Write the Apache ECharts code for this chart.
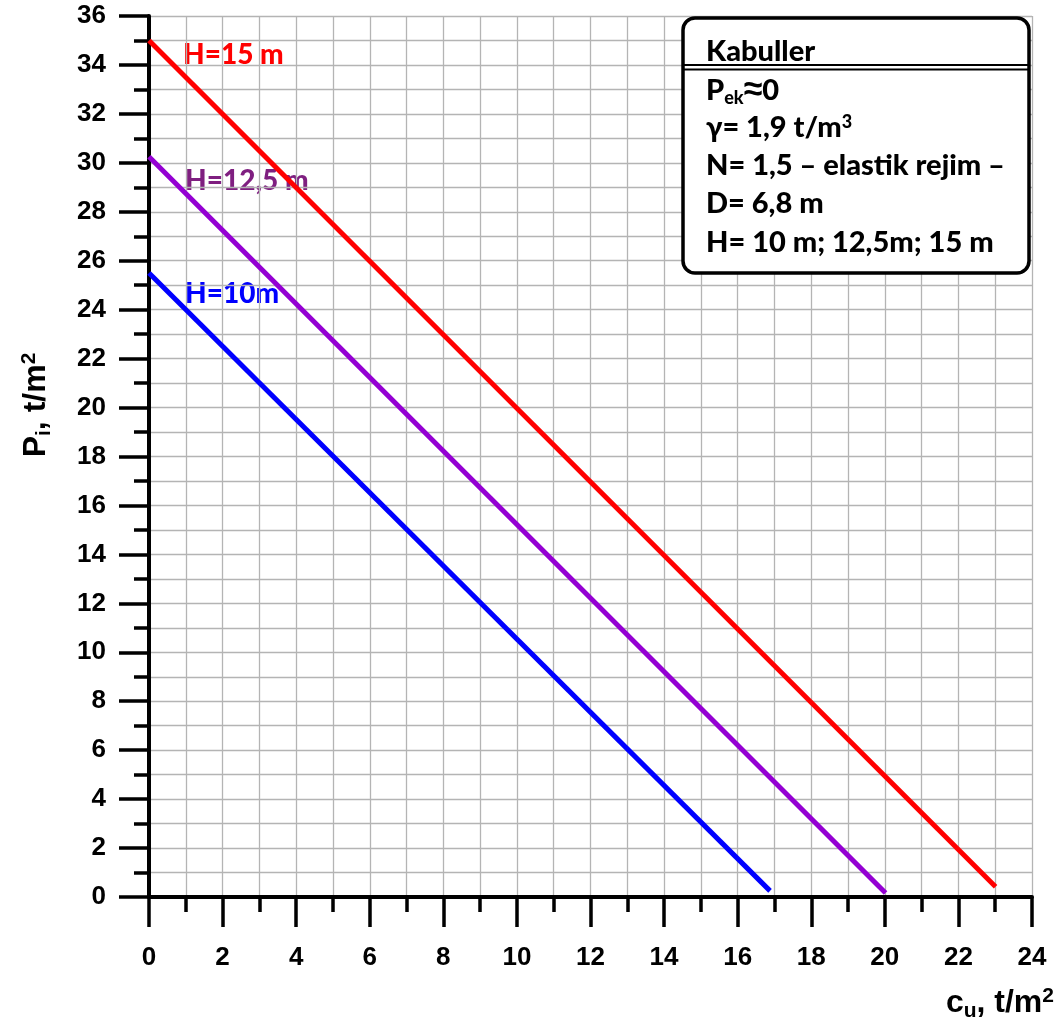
<!DOCTYPE html>
<html>
<head>
<meta charset="utf-8">
<script src="https://cdn.jsdelivr.net/npm/echarts@6/dist/echarts.min.js"></script>
<style>
  html, body { margin: 0; padding: 0; background: #fff; }
  #chart { width: 1057px; height: 1028px; }
</style>
</head>
<body>
<div id="chart"></div>
<script>
// değerler (cu, t/m2 -> Pi, t/m2)
const cuH10 = [0, 16.88];
const piH10 = [25.5, 0.25];
const cuH125 = [0, 20.02];
const piH125 = [30.25, 0.16];
const cuH15 = [0, 23.01];
const piH15 = [35.0, 0.42];

const lineLabels = ['H=15 m', 'H=12,5 m', 'H=10m'];
const boxLines = ['Kabuller', 'P{sub|ek}{big|≈}0', 'γ= 1,9 t/m{sup|3}', 'N= 1,5 – elastik rejim –', 'D= 6,8 m', 'H= 10 m; 12,5m; 15 m'];

const AX = 'Arial, "Liberation Sans", sans-serif';
const CAL = 'Lato, "Open Sans", sans-serif';
const GRIDC = '#b4b4b4';

const pairs = (xs, ys) => xs.map((x, i) => [x, ys[i]]);

const axisCommon = {
  axisLine: { show: true, onZero: false, lineStyle: { color: '#000', width: 4 } },
  axisTick: { show: true, inside: false, length: 30, lineStyle: { color: '#000', width: 3.5 } },
  minorTick: { show: true, splitNumber: 2, length: 15, lineStyle: { color: '#000', width: 3.5 } },
  splitLine: { show: true, lineStyle: { color: GRIDC, width: 1.3 } },
  minorSplitLine: { show: true, lineStyle: { color: GRIDC, width: 1.3 } },
  axisLabel: { color: '#000', fontFamily: AX, fontWeight: 'bold', fontSize: 26 },
};

const chart = echarts.init(document.getElementById('chart'));
chart.setOption({
  animation: false,
  grid: { left: 149, right: 25, top: 16, bottom: 131 },
  xAxis: Object.assign({}, axisCommon, {
    type: 'value', min: 0, max: 24, interval: 2,
    axisLabel: Object.assign({}, axisCommon.axisLabel, { margin: 48 }),
  }),
  yAxis: Object.assign({}, axisCommon, {
    type: 'value', min: 0, max: 36, interval: 2,
    axisLabel: Object.assign({}, axisCommon.axisLabel, { margin: 43 }),
  }),
  series: [
    { type: 'line', data: pairs(cuH10, piH10), symbol: 'none', lineStyle: { color: '#0000ff', width: 5 } },
    { type: 'line', data: pairs(cuH125, piH125), symbol: 'none', lineStyle: { color: '#9400d3', width: 5 } },
    { type: 'line', data: pairs(cuH15, piH15), symbol: 'none', lineStyle: { color: '#ff0000', width: 5 } },
  ],
  graphic: [
    // eğri etiketleri
    { type: 'text', x: 183, y: 55, style: { text: lineLabels[0], fill: '#ff0000', verticalAlign: 'middle', font: '900 28px ' + CAL } },
    { type: 'text', x: 185, y: 181, style: { text: lineLabels[1], fill: '#7f1f80', verticalAlign: 'middle', font: '900 28px ' + CAL } },
    { type: 'text', x: 185, y: 294, style: { text: lineLabels[2], fill: '#0000ff', verticalAlign: 'middle', font: '900 28px ' + CAL } },
    // kabuller kutusu
    { type: 'rect', shape: { x: 683, y: 18, width: 346, height: 255, r: 12 }, style: { fill: '#fff', stroke: '#000', lineWidth: 3.5 }, z: 10 },
    { type: 'line', shape: { x1: 684, y1: 65, x2: 1028, y2: 65 }, style: { stroke: '#000', lineWidth: 2 }, z: 11 },
    { type: 'line', shape: { x1: 684, y1: 69.5, x2: 1028, y2: 69.5 }, style: { stroke: '#000', lineWidth: 2 }, z: 11 },
    ...boxLines.map((t, i) => ({
      type: 'text', z: 12, x: 706, y: [52, 91, 128, 166, 204, 243][i],
      style: {
        text: t, fill: '#000', verticalAlign: 'middle', font: '900 29px ' + CAL,
        rich: {
          sub: { font: '900 18px ' + CAL, fill: '#000', padding: [15, 0, 0, 0] },
          sup: { font: '900 18px ' + CAL, fill: '#000', padding: [0, 0, 12, 0] },
          big: { font: '900 34px ' + AX, fill: '#000' },
        },
      },
    })),
    // eksen adları
    {
      type: 'text', x: 36, y: 405, rotation: Math.PI / 2, z: 12,
      style: {
        text: 'P{sub|i}, t/m{sup|2}', fill: '#000', align: 'center', verticalAlign: 'middle', font: 'bold 32px ' + AX,
        rich: {
          sub: { font: 'bold 21px ' + AX, fill: '#000', padding: [16, 0, 0, 0] },
          sup: { font: 'bold 21px ' + AX, fill: '#000', padding: [0, 0, 14, 0] },
        },
      },
    },
    {
      type: 'text', x: 1054, y: 1003, z: 12,
      style: {
        text: 'c{sub|u}, t/m{sup|2}', fill: '#000', align: 'right', verticalAlign: 'middle', font: 'bold 32px ' + AX,
        rich: {
          sub: { font: 'bold 21px ' + AX, fill: '#000', padding: [16, 0, 0, 0] },
          sup: { font: 'bold 21px ' + AX, fill: '#000', padding: [0, 0, 14, 0] },
        },
      },
    },
  ],
});
</script>
</body>
</html>
